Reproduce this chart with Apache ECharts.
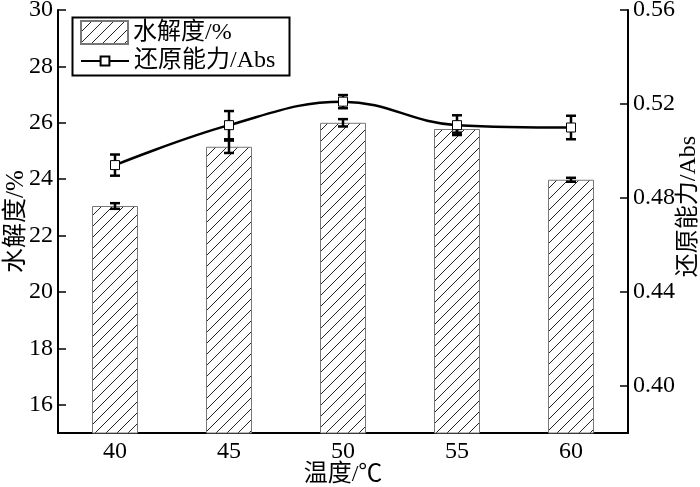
<!DOCTYPE html>
<html>
<head>
<meta charset="utf-8">
<script src="https://cdn.jsdelivr.net/npm/echarts@6/dist/echarts.min.js"></script>
<style>
  html, body { margin: 0; padding: 0; background: #fff; }
  #main { width: 700px; height: 487px; }
</style>
</head>
<body>
<div id="main"></div>
<script>
// 温度 categories
var categories = ['40', '45', '50', '55', '60'];
// 水解度/% bars and their error
var hydrolysis = [23.05, 25.15, 26.0, 25.78, 23.98];
var hydrolysisErr = [0.1, 0.22, 0.13, 0.13, 0.07];
// 还原能力/Abs line and its error
var reducing = [0.494, 0.511, 0.521, 0.511, 0.510];
var reducingErr = [0.0045, 0.006, 0.0028, 0.0042, 0.005];
// tick labels
var leftTicks = [16, 18, 20, 22, 24, 26, 28, 30];
var rightTicks = [0.40, 0.44, 0.48, 0.52, 0.56];

var FONT = '"Liberation Serif", "Noto Sans CJK SC", serif';
var FS = 24;

// diagonal hatch used for the bars
function hatch() {
    var c = document.createElement('canvas');
    var s = 11;
    c.width = s; c.height = s;
    var ctx = c.getContext('2d');
    ctx.fillStyle = '#fff';
    ctx.fillRect(0, 0, s, s);
    ctx.strokeStyle = '#222';
    ctx.lineWidth = 1;
    ctx.beginPath();
    ctx.moveTo(0, s); ctx.lineTo(s, 0);
    ctx.moveTo(-2, 2); ctx.lineTo(2, -2);
    ctx.moveTo(s - 2, s + 2); ctx.lineTo(s + 2, s - 2);
    ctx.stroke();
    return c;
}

function errItems(vals, errs) {
    var out = [];
    for (var i = 0; i < vals.length; i++) {
        out.push([i, vals[i] - errs[i], vals[i] + errs[i]]);
    }
    return out;
}

function errRender(capHalf) {
    return function(params, api) {
        var lo = api.coord([api.value(0), api.value(1)]);
        var hi = api.coord([api.value(0), api.value(2)]);
        var style = { stroke: '#000', lineWidth: 2.5 };
        return {
            type: 'group',
            children: [
                { type: 'line', shape: { x1: lo[0], y1: lo[1], x2: hi[0], y2: hi[1] }, style: style },
                { type: 'line', shape: { x1: lo[0] - capHalf, y1: lo[1], x2: lo[0] + capHalf, y2: lo[1] }, style: style },
                { type: 'line', shape: { x1: hi[0] - capHalf, y1: hi[1], x2: hi[0] + capHalf, y2: hi[1] }, style: style }
            ]
        };
    };
}

var myChart = echarts.init(document.getElementById('main'));
var pattern = { image: hatch(), repeat: 'repeat' };
var legendText = { fontFamily: FONT, fontSize: FS, color: '#000' };

var option = {
    animation: false,
    textStyle: { fontFamily: FONT, color: '#000' },
    grid: { left: 58, right: 72, top: 10, bottom: 54, outerBoundsMode: 'none' },
    graphic: [{
        // legend frame
        type: 'rect',
        left: 70,
        top: 15,
        shape: { width: 217, height: 58 },
        style: { fill: 'none', stroke: '#000', lineWidth: 2 },
        z: 10
    }],
    legend: [{
        left: 80,
        top: 20,
        padding: 0,
        itemWidth: 47,
        itemHeight: 23,
        itemGap: 8,
        textStyle: legendText,
        data: [{ name: '水解度/%', icon: 'rect' }]
    }, {
        left: 80,
        top: 49,
        padding: 0,
        itemWidth: 48,
        itemHeight: 11,
        textStyle: legendText,
        data: ['还原能力/Abs']
    }],
    xAxis: {
        type: 'category',
        data: categories,
        name: '温度/℃',
        nameLocation: 'middle',
        nameGap: 30,
        nameMoveOverlap: false,
        nameTextStyle: { fontFamily: FONT, fontSize: FS, color: '#000' },
        axisLine: { lineStyle: { color: '#000', width: 2 } },
        axisTick: { inside: true, alignWithLabel: true, length: 7, lineStyle: { color: '#000', width: 1.5 } },
        axisLabel: { fontFamily: FONT, fontSize: FS, color: '#000', margin: 7 }
    },
    yAxis: [{
        type: 'value',
        min: 15,
        max: 30,
        name: '水解度/%',
        nameLocation: 'middle',
        nameGap: 29,
        nameMoveOverlap: false,
        nameTextStyle: { fontFamily: FONT, fontSize: 25, color: '#000' },
        axisLine: { show: true, lineStyle: { color: '#000', width: 2 } },
        axisTick: { show: true, inside: true, length: 8, customValues: leftTicks, lineStyle: { color: '#000', width: 1.5 } },
        axisLabel: { fontFamily: FONT, fontSize: FS, color: '#000', margin: 5, customValues: leftTicks },
        splitLine: { show: false }
    }, {
        type: 'value',
        min: 0.38,
        max: 0.56,
        position: 'right',
        name: '还原能力/Abs',
        nameLocation: 'middle',
        nameGap: 49,
        nameMoveOverlap: false,
        nameTextStyle: { fontFamily: FONT, fontSize: FS, color: '#000', padding: [0, 0, 0, 30] },
        axisLine: { show: true, lineStyle: { color: '#000', width: 2 } },
        axisTick: { show: true, inside: true, length: 8, customValues: rightTicks, lineStyle: { color: '#000', width: 1.5 } },
        axisLabel: {
            fontFamily: FONT, fontSize: FS, color: '#000', margin: 5, customValues: rightTicks,
            formatter: function(v) { return v.toFixed(2); }
        },
        splitLine: { show: false }
    }],
    series: [{
        name: '水解度/%',
        type: 'bar',
        data: hydrolysis,
        barWidth: 46,
        itemStyle: { color: pattern, borderColor: '#777', borderWidth: 1 },
        z: 2
    }, {
        type: 'custom',
        data: errItems(hydrolysis, hydrolysisErr),
        renderItem: errRender(5),
        encode: { x: 0, y: [1, 2] },
        z: 3,
        silent: true
    }, {
        type: 'custom',
        yAxisIndex: 1,
        data: errItems(reducing, reducingErr),
        renderItem: errRender(5),
        encode: { x: 0, y: [1, 2] },
        z: 4,
        silent: true
    }, {
        name: '还原能力/Abs',
        type: 'line',
        yAxisIndex: 1,
        data: reducing,
        smooth: 0.4,
        symbol: 'rect',
        symbolSize: 9,
        showAllSymbol: true,
        lineStyle: { color: '#000', width: 2.5 },
        itemStyle: { color: '#fff', borderColor: '#000', borderWidth: 1 },
        z: 5
    }]
};
myChart.setOption(option);
</script>
</body>
</html>
